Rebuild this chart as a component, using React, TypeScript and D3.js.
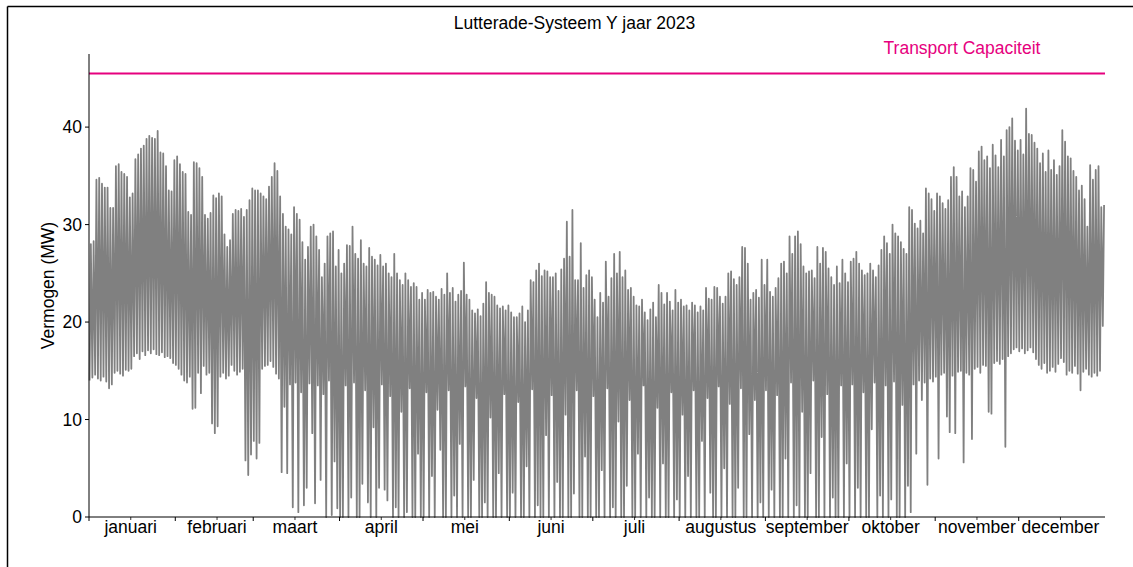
import * as d3 from "d3";

// labels
const title = "Lutterade-Systeem Y jaar 2023";
const yLabel = "Vermogen (MW)";
const capacityLabel = "Transport Capaciteit";
const monthNames = [
  "januari", "februari", "maart", "april", "mei", "juni",
  "juli", "augustus", "september", "oktober", "november", "december",
];
const yTicks = [0, 10, 20, 30, 40];

// transport capacity (MW)
const capacity = 45.5;

// daily peak load per month (MW)
const highByMonth = [
  [28, 28.3, 34.6, 34.8, 34.2, 33.8, 33.8, 31.7, 31.7, 36, 36.2, 35.4, 35.2, 34.9, 32.8, 33.2, 36.7, 37.2, 37.8, 38.1, 38.8, 39.1, 38.9, 38.8, 39.6, 37.4, 37.3, 36, 33.5, 33.4, 36.6],
  [37, 36.2, 35.4, 35.2, 31.3, 31, 36.4, 36.3, 35.8, 34.9, 31, 30.6, 31.2, 33, 32.7, 33.2, 32.9, 29, 27.7, 28.4, 31.1, 31.5, 31.4, 31.6, 30.8, 31.5, 32.5, 33.7],
  [33.5, 33.5, 33.2, 32.9, 32.6, 33.9, 34.9, 36.3, 35.5, 32.9, 31.1, 29.8, 29.5, 29, 31.8, 31.1, 30.5, 28.2, 26.4, 27.7, 29.8, 30, 28.8, 27.4, 24.6, 26, 28.8, 29.1, 29.3, 25.7, 27.4],
  [25, 26, 27.9, 27.8, 29.8, 27, 26.5, 28.4, 26, 25.7, 27.6, 26.7, 26.4, 25.8, 26.9, 25.7, 26, 25, 24.6, 27, 25, 24.3, 23.8, 25, 24.3, 23.6, 24, 23.6, 22.3, 23],
  [22.3, 23.3, 23, 23.1, 22.6, 22.3, 23.4, 22.8, 25, 23, 23.5, 22.1, 22.8, 23.2, 26.1, 22.8, 22.3, 21.2, 20.9, 21.3, 20.6, 21.9, 24.1, 23, 22.8, 22.6, 21.7, 21.4, 21.6, 21.2, 21.7],
  [21, 20.5, 20.5, 20.9, 21.6, 20, 21.2, 24.3, 24.1, 25.3, 26, 24.7, 25.3, 25.2, 24.6, 24.6, 25, 23.2, 25.4, 26.5, 30.3, 26.7, 31.5, 24.3, 24.3, 28.1, 23.5, 24.8, 25.3, 24.6],
  [22.3, 20.5, 23, 22, 26.2, 22.6, 24.5, 27, 25, 27.2, 24.6, 25.3, 23.3, 23.5, 22.6, 21.7, 21.6, 22.3, 21, 20.2, 21.3, 22, 20.5, 23.8, 23, 21.8, 23, 22.1, 21.2, 23.3, 22],
  [22.3, 21.6, 21.7, 21.2, 22, 21.7, 21, 21.6, 21.2, 23.5, 22.4, 22.3, 23.6, 23.5, 22.6, 21.9, 22.6, 25, 25.2, 24.4, 23.8, 24.6, 27.7, 27.6, 26, 22.3, 23, 23.3, 22.5, 26.4, 23.8],
  [26.4, 23.1, 22.6, 23.5, 24.5, 26, 26.2, 25, 28.8, 27, 28.8, 29.3, 28, 25.7, 25, 25.2, 25.3, 24.5, 27.7, 26, 27.6, 27.2, 25.5, 24.6, 23.8, 25.7, 24, 26.4, 25, 24.1],
  [26.2, 26.5, 27.2, 26, 25.3, 24.8, 25, 26, 25.3, 24.6, 25.8, 27.4, 28.8, 28.1, 27, 30, 29.1, 28.8, 28.2, 27.5, 27, 31.8, 31.5, 30.1, 29.6, 30.4, 29.1, 33.7, 33.2, 32.6, 31.4],
  [33.2, 32.9, 32.2, 31.6, 32.5, 34.9, 35.9, 34.9, 32.9, 33.4, 31.8, 32.9, 35.8, 35.6, 34.4, 37.5, 38, 36.6, 37, 35.8, 38.2, 37.1, 35.9, 38.7, 37, 39.7, 40, 40.9, 38.6, 37.6],
  [38.7, 37.2, 41.9, 39.3, 39.2, 38.4, 37.8, 36.3, 37.3, 35.4, 37.6, 35.6, 36.6, 35.1, 36, 39.7, 38.5, 37, 36.8, 35.5, 34.9, 33.5, 34, 32.6, 29.8, 36.1, 34.6, 35.6, 36, 31.8, 32],
];

// daily minimum per month (MW)
const lowByMonth = [
  [14, 14.3, 14.6, 14.2, 14, 14.4, 13.9, 13.2, 13.6, 14.8, 15, 14.7, 14.5, 15.1, 15, 15.2, 16.5, 16.8, 16.2, 17, 16.6, 17.1, 16.8, 17.2, 16.7, 16.6, 16.9, 16.4, 16.5, 16.3, 15.8],
  [15.6, 15.2, 14.6, 14, 13.8, 14.4, 11.1, 11.2, 14.8, 12.7, 15.5, 14.6, 14.8, 9.6, 8.6, 9.3, 14.4, 14.8, 14.2, 14.5, 15.6, 15, 14.6, 14.9, 15.2, 5.8, 4.3, 6.4],
  [7.8, 6, 7.6, 15.2, 15.5, 15.6, 16, 15.4, 14.7, 14.2, 4.6, 11.3, 4.5, 13.6, 1, 13.8, 0.5, 12.8, 1.2, 3, 13.7, 8.6, 1.4, 13.5, 3.8, 12.6, 0, 14, 0.2, 5.7, 0.9],
  [0, 0, 13.5, 0, 2, 13.8, 0, 0, 3.4, 13, 1.5, 0, 9.2, 0, 3, 13.6, 2.8, 1.7, 12.4, 0, 1, 0, 10.8, 0, 0.5, 13.2, 0, 0, 6.5, 0],
  [0, 12.8, 0, 4.2, 0, 11, 6.9, 0, 0, 13, 0, 2.2, 0, 7.5, 0, 13.4, 0, 0, 3.8, 12.2, 0, 0, 1.5, 0, 10.2, 0, 0, 4.5, 0, 12.6, 0],
  [0, 2.5, 0, 11.8, 0, 0, 5.2, 0, 13.1, 0, 1.2, 0, 0, 8.4, 0, 12.5, 0, 3.6, 0, 0, 10.5, 0, 0, 2.4, 13, 0, 0, 6.2, 0, 0],
  [12.4, 0, 0, 4.8, 0, 13.2, 0, 1, 0, 9.8, 0, 0, 3.2, 12, 0, 0, 6.5, 0, 13.5, 0, 2, 0, 0, 11.2, 0, 5.5, 0, 0, 12.8, 0, 1.8],
  [0, 10.5, 0, 4.2, 0, 13, 0, 0, 7.8, 0, 12.2, 2.5, 0, 0, 13.4, 0, 5, 0, 11.6, 0, 0, 3, 13.2, 0, 0, 8.5, 0, 12, 0, 1.5, 0],
  [13, 0, 2.8, 0, 12.5, 0, 0, 6, 0, 13.8, 0, 1.2, 0, 10.8, 0, 0, 4.5, 14, 0, 0, 8.2, 0, 12.6, 0, 2, 0, 0, 13.5, 0, 5.5],
  [0, 13.6, 0, 3, 0, 12.8, 0, 0, 9, 13.8, 0, 2.2, 0, 13.5, 0, 1.8, 13.9, 0, 0, 11.5, 0, 3.2, 0.5, 13.6, 6.5, 14, 12, 13.8, 3.3, 14.2, 13.9],
  [14.4, 6, 14.6, 14.8, 10.3, 8.7, 14.5, 8.6, 14.9, 15, 5.6, 14.8, 14.6, 8, 15.2, 15.4, 14.8, 15.6, 15.5, 10.8, 10.6, 15.8, 16, 15.7, 16.2, 7.2, 16.5, 16.8, 17.2, 17.4],
  [17, 17.3, 16.8, 17.1, 17.4, 16.9, 16.2, 15.6, 15.2, 15.8, 14.8, 15, 15.4, 14.9, 15.7, 16.3, 15.9, 14.6, 15, 14.8, 15.5, 14.7, 13, 14.9, 15.2, 14.6, 14.4, 14.8, 14.5, 15, 19.6],
];

const W = 1133;
const H = 567;
const m = { left: 89, right: 1105, top: 54, bottom: 517 };
const FONT = "'Liberation Sans', Arial, Helvetica, sans-serif";
const FS = 17.5;
const GREY = "#808080";
const PINK = "#e6007e";

export default function App() {
  const start = new Date(2023, 0, 1);
  const end = new Date(2024, 0, 1);

  const x = d3.scaleTime().domain([start, end]).range([m.left, m.right]);
  const y = d3.scaleLinear().domain([0, 47.5]).range([m.bottom, m.top]);

  const highs = highByMonth.flat();
  const lows = lowByMonth.flat();

  // two samples per day: night minimum, then daytime peak
  const pts: { t: Date; v: number }[] = [];
  highs.forEach((h, i) => {
    const day = d3.timeDay.offset(start, i);
    pts.push({ t: d3.timeHour.offset(day, 5), v: lows[i] });
    pts.push({ t: d3.timeHour.offset(day, 16), v: h });
  });

  const line = d3
    .line<{ t: Date; v: number }>()
    .x((d) => x(d.t))
    .y((d) => y(d.v));

  const monthStarts = d3.timeMonth.range(start, end);
  const midMonths = monthStarts.map((d) => new Date(d.getFullYear(), d.getMonth(), 16));

  return (
    <svg
      width={W}
      height={H}
      style={{ position: "absolute", left: 0, top: 0, background: "#fff" }}
      fontFamily={FONT}
    >
      <rect x={0} y={0} width={W} height={H} fill="#fff" />
      {/* figure frame */}
      <line x1={7.5} y1={6.5} x2={W} y2={6.5} stroke="#000" strokeWidth={1.5} />
      <line x1={7.5} y1={6.5} x2={7.5} y2={H} stroke="#000" strokeWidth={1.5} />

      <text x={574.5} y={29} textAnchor="middle" fontSize={FS} fill="#000">
        {title}
      </text>

      {/* load series */}
      <path d={line(pts) ?? ""} fill="none" stroke={GREY} strokeWidth={1.8} strokeLinejoin="round" />

      {/* capacity */}
      <line x1={m.left} x2={m.right} y1={y(capacity)} y2={y(capacity)} stroke={PINK} strokeWidth={2} />
      <text x={962} y={54} textAnchor="middle" fontSize={FS} fill={PINK}>
        {capacityLabel}
      </text>

      {/* y axis */}
      <line x1={m.left} x2={m.left} y1={m.top} y2={m.bottom} stroke="#000" strokeWidth={1} />
      {yTicks.map((t) => (
        <g key={t}>
          <line x1={m.left - 4} x2={m.left} y1={y(t)} y2={y(t)} stroke="#000" strokeWidth={1} />
          <text x={m.left - 7} y={y(t)} dy="0.36em" textAnchor="end" fontSize={FS} fill="#000">
            {t}
          </text>
        </g>
      ))}
      <text
        transform={`translate(48,${(m.top + m.bottom) / 2}) rotate(-90)`}
        textAnchor="middle"
        dy="0.36em"
        fontSize={FS}
        fill="#000"
      >
        {yLabel}
      </text>

      {/* x axis */}
      <line x1={m.left} x2={m.right} y1={m.bottom} y2={m.bottom} stroke="#000" strokeWidth={1} />
      {monthStarts.map((d, i) => (
        <line key={"s" + i} x1={x(d)} x2={x(d)} y1={m.bottom} y2={m.bottom + 4} stroke="#000" strokeWidth={1} />
      ))}
      {midMonths.map((d, i) => (
        <g key={"m" + i}>
          <line x1={x(d)} x2={x(d)} y1={m.bottom} y2={m.bottom + 3} stroke="#000" strokeWidth={0.8} />
          <text x={x(d)} y={533} textAnchor="middle" fontSize={FS} fill="#000">
            {monthNames[i]}
          </text>
        </g>
      ))}
    </svg>
  );
}
